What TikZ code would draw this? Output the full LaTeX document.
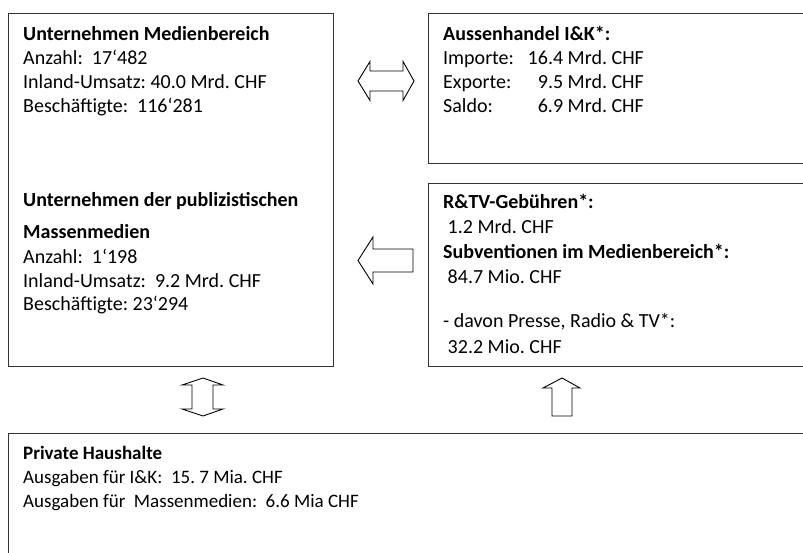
\documentclass[tikz,border=0pt]{standalone}
\usepackage{fontspec}
\setmainfont{Carlito}
\frenchspacing
\begin{document}
\begin{tikzpicture}[x=1pt,y=-1pt,
  panel/.style={draw=black!80, line width=1.3pt, inner sep=0pt, anchor=north west},
  txt/.style={anchor=base west, inner sep=0pt},
  blockarrow/.style={draw=black, line width=0.9pt, fill=white, line join=miter}]
\useasboundingbox (0,0) rectangle (803,552);
\clip (0,0) rectangle (803,552);

% frames
\node[panel, minimum width=325pt, minimum height=353pt] (firms) at (8,13) {};
\node[panel, minimum width=402pt, minimum height=150pt] (trade) at (428,13) {};
\node[panel, minimum width=402pt, minimum height=183pt] (fees) at (428,183) {};
\node[panel, minimum width=822pt, minimum height=150pt] (homes) at (8,433) {};

% texts
\node[txt] (firmsA) at (23,40) {\fontsize{20}{24}\selectfont
  \begin{tabular}[t]{@{}l@{}}
  \textbf{Unternehmen Medienbereich}\\
  Anzahl:\ \ 17‘482\\
  Inland-Umsatz: 40.0 Mrd. CHF\\
  Beschäftigte:\ \ 116‘281
  \end{tabular}};

\node[txt] (firmsB) at (23,206) {\fontsize{20}{24}\selectfont
  \begin{tabular}[t]{@{}l@{}}
  \textbf{Unternehmen der publizistischen}\\[8pt]
  \textbf{Massenmedien}\\[1pt]
  Anzahl:\ \ 1‘198\\
  Inland-Umsatz:\ \ 9.2 Mrd. CHF\\[-1pt]
  Beschäftigte: 23‘294
  \end{tabular}};

\node[txt] (tradeT) at (443,40) {\fontsize{20}{24}\selectfont
  \begin{tabular}[t]{@{}l@{}}
  \textbf{Aussenhandel I\&K*:}\\
  \makebox[84pt][l]{Importe:}\makebox[36pt][r]{16.4} Mrd. CHF\\
  \makebox[84pt][l]{Exporte:}\makebox[36pt][r]{9.5} Mrd. CHF\\
  \makebox[84pt][l]{Saldo:}\makebox[36pt][r]{6.9} Mrd. CHF
  \end{tabular}};

\node[txt] (feesT) at (443,208) {\fontsize{20}{25}\selectfont
  \begin{tabular}[t]{@{}l@{}}
  \textbf{R\&TV-Gebühren*:}\\
  \ 1.2 Mrd. CHF\\
  \textbf{Subventionen im Medienbereich*:}\\
  \ 84.7 Mio. CHF\\[19pt]
  - davon Presse, Radio \& TV*:\\[1pt]
  \ 32.2 Mio. CHF
  \end{tabular}};

\node[txt] (homesT) at (23,459) {\fontsize{19}{24}\selectfont
  \begin{tabular}[t]{@{}l@{}}
  \textbf{Private Haushalte}\\
  Ausgaben für I\&K:\ \ 15. 7 Mia. CHF\\
  Ausgaben für\ \ Massenmedien:\ \ 6.6 Mia CHF
  \end{tabular}};

% block arrows between the frames
\draw[blockarrow] (358,81) -- (370,61.5) -- (370,71) -- (403,71) -- (403,61.5)
  -- (414,81) -- (403,100.5) -- (403,91) -- (370,91) -- (370,100.5) -- cycle;
\draw[blockarrow] (358,260.5) -- (373,237) -- (373,249) -- (413,249)
  -- (413,272) -- (373,272) -- (373,284) -- cycle;
\draw[blockarrow] (203,378) -- (223,385) -- (213,385) -- (213,409) -- (223,409)
  -- (203,416) -- (182,409) -- (192,409) -- (192,385) -- (182,385) -- cycle;
\draw[blockarrow] (562,378) -- (580,388) -- (572,388) -- (572,416)
  -- (552,416) -- (552,388) -- (543,388) -- cycle;
\end{tikzpicture}
\end{document}
